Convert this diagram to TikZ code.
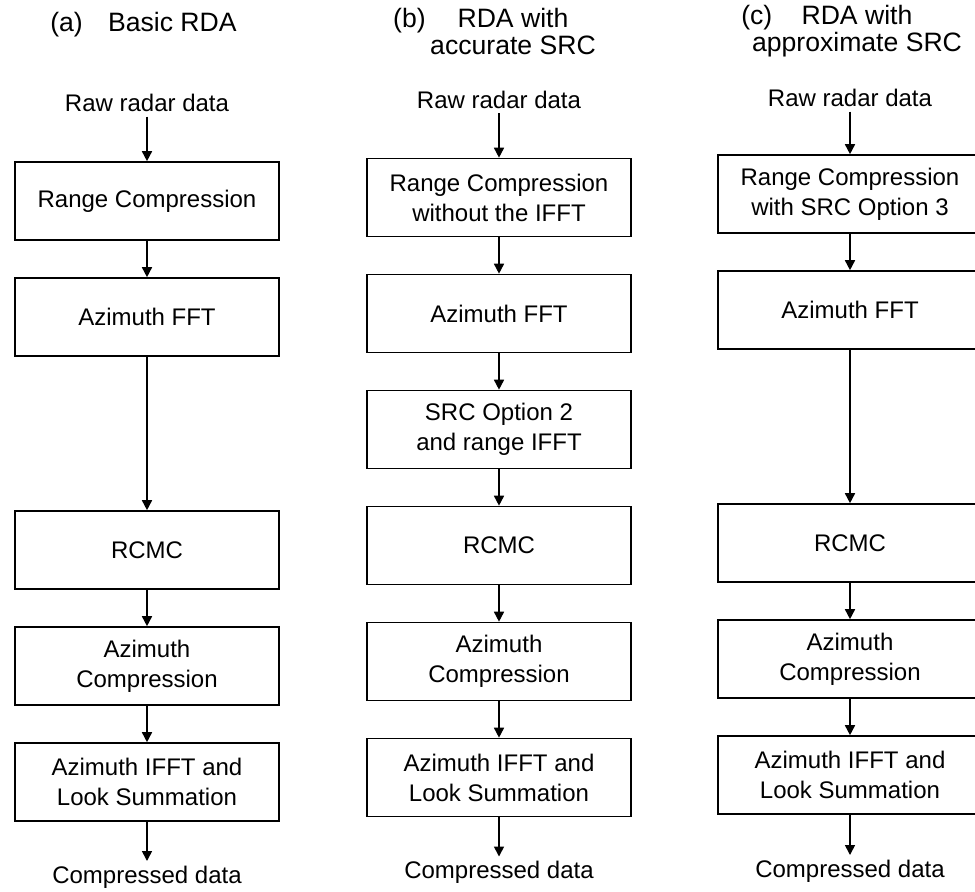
\documentclass[tikz,border=0pt]{standalone}
\usepackage{fontspec}
\setmainfont{Liberation Sans}
\usetikzlibrary{positioning,arrows.meta}

\begin{document}
\begin{tikzpicture}[x=0.5pt, y=0.5pt, node distance={58pt}, thick, font=\fontsize{12}{15}\selectfont,
  stage/.style = {draw, rectangle, minimum width=132pt, minimum height=39pt, align=center, inner sep=2pt},
  io/.style = {inner sep=2pt},
  heading/.style = {align=center, font=\fontsize{13.3}{13.5}\selectfont},
  flow/.style = {-{Triangle[length=5pt,width=5pt]}}]
\useasboundingbox (0,0) rectangle (975,-892);
\node[heading] (ta) at (143.5,-25) {(a)\hspace{0.95em}Basic RDA};
\node[heading] (tb) at (513,-31.5) {\llap{(b)\hspace{1.2em}}RDA with\\accurate SRC};
\node[heading] (tc) at (857,-31) {\llap{(c)\hspace{1.1em}}RDA with\\approximate SRC};
\node[stage] (a1) at (147,-201) {Range Compression};
\node[stage] (a2) [below of=a1] {Azimuth FFT};
\node[stage] (a3) [node distance=116.5pt, below of=a2] {RCMC};
\node[stage] (a4) [below of=a3] {Azimuth\\Compression};
\node[stage] (a5) [below of=a4] {Azimuth IFFT and\\Look Summation};
\node[io] (ain) [node distance=49pt, above of=a1] {Raw radar data};
\node[io] (aout) [node distance=47.5pt, below of=a5] {Compressed data};
\node[stage] (b1) at (499,-197.5) {Range Compression\\without the IFFT};
\node[stage] (b2) [below of=b1] {Azimuth FFT};
\node[stage] (b3) [below of=b2] {SRC Option 2\\and range IFFT};
\node[stage] (b4) [below of=b3] {RCMC};
\node[stage] (b5) [below of=b4] {Azimuth\\Compression};
\node[stage] (b6) [below of=b5] {Azimuth IFFT and\\Look Summation};
\node[io] (bin) [node distance=49pt, above of=b1] {Raw radar data};
\node[io] (bout) [node distance=47.5pt, below of=b6] {Compressed data};
\node[stage] (c1) at (850,-194) {Range Compression\\with SRC Option 3};
\node[stage] (c2) [below of=c1] {Azimuth FFT};
\node[stage] (c3) [node distance=116.5pt, below of=c2] {RCMC};
\node[stage] (c4) [below of=c3] {Azimuth\\Compression};
\node[stage] (c5) [below of=c4] {Azimuth IFFT and\\Look Summation};
\node[io] (cin) [node distance=48pt, above of=c1] {Raw radar data};
\node[io] (cout) [node distance=48pt, below of=c5] {Compressed data};
\draw[flow] (ain) -- (a1);
\draw[flow] (a1) -- (a2);
\draw[flow] (a2) -- (a3);
\draw[flow] (a3) -- (a4);
\draw[flow] (a4) -- (a5);
\draw[flow] (a5) -- (aout);
\draw[flow] (bin) -- (b1);
\draw[flow] (b1) -- (b2);
\draw[flow] (b2) -- (b3);
\draw[flow] (b3) -- (b4);
\draw[flow] (b4) -- (b5);
\draw[flow] (b5) -- (b6);
\draw[flow] (b6) -- (bout);
\draw[flow] (cin) -- (c1);
\draw[flow] (c1) -- (c2);
\draw[flow] (c2) -- (c3);
\draw[flow] (c3) -- (c4);
\draw[flow] (c4) -- (c5);
\draw[flow] (c5) -- (cout);
\end{tikzpicture}
\end{document}
